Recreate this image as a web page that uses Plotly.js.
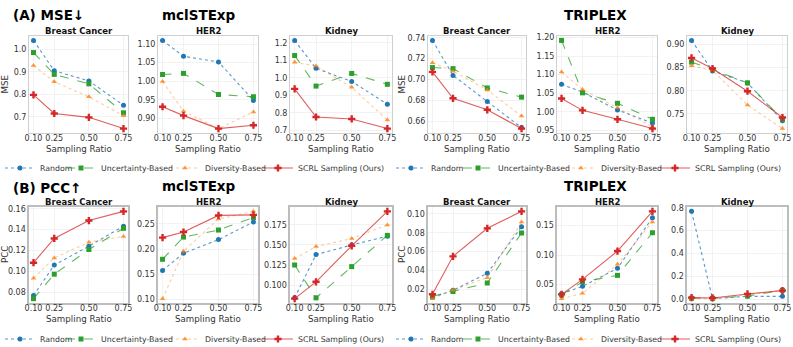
<!DOCTYPE html>
<html>
<head>
<meta charset="utf-8">
<script src="https://cdn.plot.ly/plotly-3.0.1.min.js"></script>
<style>
  body { margin: 0; background: #fff; }
  #chart { width: 793px; height: 347px; }
</style>
</head>
<body>
<div id="chart"></div>
<script>
// Sampling ratio experiments, MSE (top) and PCC (bottom)
const ratios = [0.10, 0.25, 0.50, 0.75];
const ratioLabels = ['0.10', '0.25', '0.50', '0.75'];
const methods = ['Random', 'Uncertainty-Based', 'Diversity-Based', 'SCRL Sampling (Ours)'];
const datasets = ['Breast Cancer', 'HER2', 'Kidney'];

// rows follow the methods order
const mseMclBreast = [
    [1.040, 0.905, 0.860, 0.752],
    [0.986, 0.889, 0.847, 0.718],
    [0.928, 0.856, 0.789, 0.705],
    [0.798, 0.715, 0.698, 0.648]
];
const mseMclHer2 = [
    [1.110, 1.067, 1.052, 0.948],
    [1.018, 1.021, 0.964, 0.958],
    [0.999, 0.919, 0.872, 0.917],
    [0.931, 0.907, 0.872, 0.881]
];
const mseMclKidney = [
    [1.213, 1.054, 0.979, 0.850],
    [1.127, 0.953, 1.025, 0.963],
    [1.088, 1.067, 0.946, 0.760],
    [0.937, 0.777, 0.766, 0.711]
];
const mseTriBreast = [
    [0.7374, 0.7039, 0.6789, 0.6540],
    [0.7114, 0.7104, 0.6919, 0.6831],
    [0.7160, 0.7080, 0.6900, 0.6650],
    [0.7073, 0.6820, 0.6710, 0.6530]
];
const mseTriHer2 = [
    [1.074, 1.053, 1.005, 0.970],
    [1.192, 1.051, 1.023, 0.980],
    [1.107, 1.060, 1.011, 0.960],
    [1.036, 1.004, 0.980, 0.955]
];
const mseTriKidney = [
    [0.909, 0.843, 0.817, 0.735],
    [0.862, 0.846, 0.817, 0.738],
    [0.854, 0.844, 0.769, 0.718],
    [0.871, 0.848, 0.799, 0.742]
];

const pccMclBreast = [
    [0.0771, 0.1061, 0.1242, 0.1432],
    [0.0740, 0.0974, 0.1210, 0.1413],
    [0.0935, 0.1129, 0.1280, 0.1335],
    [0.1084, 0.1316, 0.1487, 0.1575]
];
const pccMclHer2 = [
    [0.158, 0.192, 0.219, 0.254],
    [0.180, 0.224, 0.238, 0.263],
    [0.102, 0.196, 0.260, 0.275],
    [0.223, 0.234, 0.267, 0.268]
];
const pccMclKidney = [
    [0.084, 0.138, 0.150, 0.161],
    [0.125, 0.084, 0.123, 0.162],
    [0.133, 0.148, 0.158, 0.175],
    [0.083, 0.104, 0.149, 0.192]
];
const pccTriBreast = [
    [0.0116, 0.0193, 0.0372, 0.0863],
    [0.0130, 0.0180, 0.0270, 0.0797],
    [0.0105, 0.0196, 0.0326, 0.0912],
    [0.0151, 0.0551, 0.0846, 0.1025]
];
const pccTriHer2 = [
    [0.0340, 0.0466, 0.0773, 0.1636],
    [0.0320, 0.0545, 0.0653, 0.1380],
    [0.0257, 0.0347, 0.0841, 0.1563],
    [0.0330, 0.0585, 0.1068, 0.1744]
];
const pccTriKidney = [
    [0.768, 0.006, 0.026, 0.026],
    [0.009, 0.009, 0.029, 0.079],
    [0.012, 0.006, 0.041, 0.082],
    [0.015, 0.012, 0.047, 0.076]
];

const W = 793, H = 347;
const font = 'DejaVu Sans';
const lineColors = ['rgba(31,119,180,0.75)', 'rgba(44,160,44,0.75)', 'rgba(255,127,14,0.4)', 'rgba(214,39,40,0.75)'];
const markerColors = ['#1f77b4', '#2ca02c', 'rgba(255,127,14,0.8)', '#d62728'];
const dashes = ['dot', 'dash', 'dot', 'solid'];
const symbols = ['circle', 'square', 'triangle-up', 'cross'];
const sizes = [5, 5, 5, 6];

// pixel frames of the subplots
const colsPx = [[29, 128], [158, 258], [290, 392], [428, 526], [557, 657], [687, 787]];
const rowsPx = [[36, 133], [207, 303]];
// where each legend entry's text starts, per group
const legendTextPx = [[37, 103, 207, 300], [433, 500, 603, 697]];
const legendRowPx = [168, 339];

const panels = [
    {data: mseMclBreast, dtick: 0.1, fmt: '.1f', metric: 'MSE'},
    {data: mseMclHer2, dtick: 0.05, fmt: '.2f'},
    {data: mseMclKidney, dtick: 0.1, fmt: '.1f'},
    {data: mseTriBreast, dtick: 0.02, fmt: '.2f', metric: 'MSE'},
    {data: mseTriHer2, dtick: 0.05, fmt: '.2f'},
    {data: mseTriKidney, dtick: 0.05, fmt: '.2f'},
    {data: pccMclBreast, dtick: 0.02, fmt: '.2f', metric: 'PCC'},
    {data: pccMclHer2, dtick: 0.05, fmt: '.2f'},
    {data: pccMclKidney, dtick: 0.025, fmt: '.3f'},
    {data: pccTriBreast, dtick: 0.02, fmt: '.2f', metric: 'PCC'},
    {data: pccTriHer2, dtick: 0.05, fmt: '.2f'},
    {data: pccTriKidney, dtick: 0.2, fmt: '.1f'}
];

const px = x => x / W;
const py = y => 1 - y / H;
const legendName = k => k === 0 ? 'legend' : 'legend' + (k + 1);

const traces = [];
const annotations = [];
const layout = {
    width: W, height: H,
    margin: {l: 0, r: 0, t: 0, b: 0, autoexpand: false},
    paper_bgcolor: '#fff',
    plot_bgcolor: '#fff',
    font: {family: font, color: '#333'},
    showlegend: true
};

panels.forEach(function(p, i) {
    const n = i + 1;
    const row = i < 6 ? 0 : 1;
    const col = i % 6;
    const grp = col < 3 ? 0 : 1;
    const xs = colsPx[col], ys = rowsPx[row];
    const firstInGroup = col === 0 || col === 3;

    p.data.forEach(function(vals, m) {
        traces.push({
            x: ratios, y: vals,
            xaxis: 'x' + n, yaxis: 'y' + n,
            type: 'scatter', mode: 'lines+markers',
            name: methods[m],
            legend: legendName((row * 2 + grp) * 4 + m),
            showlegend: firstInGroup,
            line: {color: lineColors[m], width: 1.1, dash: dashes[m]},
            marker: {color: markerColors[m], symbol: symbols[m], size: sizes[m], line: {width: 0}}
        });
    });

    // autoscale like matplotlib: 5% padding
    const all = [].concat.apply([], p.data);
    const lo = Math.min.apply(null, all), hi = Math.max.apply(null, all);
    const pad = (hi - lo) * 0.05;

    const frame = row === 0 ? {color: '#cfcfcf', width: 1} : {color: '#bdbdbd', width: 1.6};
    layout['xaxis' + n] = {
        domain: [px(xs[0]), px(xs[1])], anchor: 'y' + n,
        range: [0.0675, 0.7825],
        tickvals: ratios, ticktext: ratioLabels, tickangle: 0,
        showline: true, mirror: true, linecolor: frame.color, linewidth: frame.width,
        showgrid: true, gridcolor: '#efefef', gridwidth: 0.8, zeroline: false,
        ticks: '', ticklabelstandoff: -3,
        tickfont: {size: 8, color: '#333'}, automargin: false
    };
    layout['yaxis' + n] = {
        domain: [py(ys[1]), py(ys[0])], anchor: 'x' + n,
        range: [lo - pad, hi + pad],
        dtick: p.dtick, tick0: 0, tickformat: p.fmt,
        showline: true, mirror: true, linecolor: frame.color, linewidth: frame.width,
        showgrid: true, gridcolor: '#efefef', gridwidth: 0.8, zeroline: false,
        ticks: '', tickfont: {size: 8, color: '#333'}, automargin: false
    };

    const cx = px((xs[0] + xs[1]) / 2);
    annotations.push({
        text: '<b>' + datasets[col % 3] + '</b>', xref: 'paper', yref: 'paper',
        x: cx, y: py(ys[0] - 5), xanchor: 'center', yanchor: 'middle', showarrow: false,
        font: {size: 8.5, color: '#111', family: font}
    });
    annotations.push({
        text: 'Sampling Ratio', xref: 'paper', yref: 'paper',
        x: cx, y: py(ys[1] + 15.5), xanchor: 'center', yanchor: 'middle', showarrow: false,
        font: {size: 8.7, color: '#333', family: font}
    });
    if (p.metric) {
        annotations.push({
            text: p.metric, xref: 'paper', yref: 'paper', textangle: -90,
            x: px(col === 0 ? 5 : 402), y: py((ys[0] + ys[1]) / 2),
            xanchor: 'center', yanchor: 'middle', showarrow: false,
            font: {size: 8.7, color: '#333', family: font}
        });
    }
});

// group headings
const headings = [
    ['<b>(A) MSE↓</b>', 11, 15, 'left'],
    ['<b>mclSTExp</b>', 199, 15, 'center'],
    ['<b>TRIPLEX</b>', 595, 15, 'center'],
    ['<b>(B) PCC↑</b>', 11, 188, 'left'],
    ['<b>mclSTExp</b>', 199, 186, 'center'],
    ['<b>TRIPLEX</b>', 595, 186, 'center']
];
headings.forEach(function(h) {
    annotations.push({
        text: h[0], xref: 'paper', yref: 'paper', x: px(h[1]), y: py(h[2]),
        xanchor: h[3], yanchor: 'middle', showarrow: false,
        font: {size: 13.5, color: '#000', family: font}
    });
});
layout.annotations = annotations;

// one small legend per entry so each can sit where the reference puts it
for (let row = 0; row < 2; row++) {
    for (let grp = 0; grp < 2; grp++) {
        for (let m = 0; m < 4; m++) {
            const k = (row * 2 + grp) * 4 + m;
            layout[legendName(k)] = {
                orientation: 'h',
                x: px(Math.max(0, legendTextPx[grp][m] - 42)), y: py(legendRowPx[row]),
                xanchor: 'left', yanchor: 'middle',
                font: {size: 7.8, color: '#333', family: font},
                bgcolor: 'rgba(0,0,0,0)', itemwidth: 30
            };
        }
    }
}

Plotly.newPlot('chart', traces, layout, {displayModeBar: false, staticPlot: true});
</script>
</body>
</html>
